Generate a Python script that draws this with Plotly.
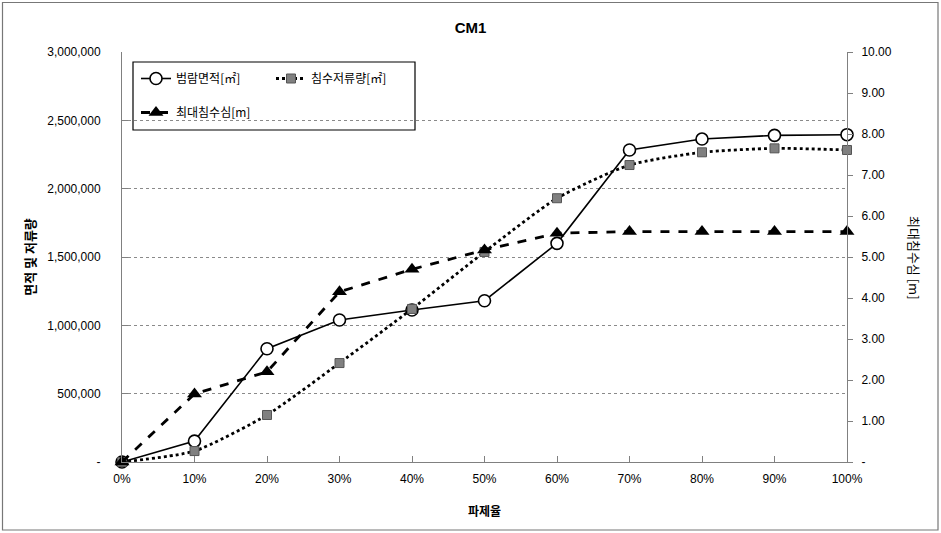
import plotly.graph_objects as go

x_pct = [0, 10, 20, 30, 40, 50, 60, 70, 80, 90, 100]
x_labels = ["0%", "10%", "20%", "30%", "40%", "50%", "60%", "70%", "80%", "90%", "100%"]

area = [0, 153000, 829000, 1039000, 1112000, 1180000, 1600000, 2283000, 2363000, 2390000, 2395000]
storage = [0, 80000, 344000, 724000, 1120000, 1537000, 1930000, 2173000, 2266000, 2295000, 2283000]
depth = [0, 1.66, 2.20, 4.15, 4.70, 5.17, 5.58, 5.62, 5.62, 5.62, 5.62]

left_ticks = [0, 500000, 1000000, 1500000, 2000000, 2500000, 3000000]
left_text = ["-", "500,000", "1,000,000", "1,500,000", "2,000,000", "2,500,000", "3,000,000"]
right_ticks = [0, 1, 2, 3, 4, 5, 6, 7, 8, 9, 10]
right_text = ["-", "1.00", "2.00", "3.00", "4.00", "5.00", "6.00", "7.00", "8.00", "9.00", "10.00"]

FONT = "Liberation Sans, Noto Sans CJK KR, sans-serif"
KFONT = "Noto Sans CJK KR, Liberation Sans, sans-serif"

fig = go.Figure()

fig.add_trace(go.Scatter(
    x=x_pct, y=area, name="범람면적[㎡]", mode="lines+markers",
    line=dict(color="black", width=1.6),
    marker=dict(symbol="circle", size=12, color="white", line=dict(color="black", width=1.6)),
    cliponaxis=False, legend="legend"))

fig.add_trace(go.Scatter(
    x=x_pct, y=storage, name="침수저류량[㎡]", mode="lines+markers",
    line=dict(color="black", width=2.8, dash="dot", shape="spline", smoothing=0.6),
    marker=dict(symbol="square", size=9, color="#808080", line=dict(color="#555555", width=1)),
    cliponaxis=False, legend="legend"))

fig.add_trace(go.Scatter(
    x=x_pct, y=depth, name="최대침수심[m]", mode="lines+markers", yaxis="y2",
    line=dict(color="black", width=2.8, dash="dash"),
    marker=dict(symbol="triangle-up", size=13, color="black"),
    cliponaxis=False, legend="legend2"))

L, R, T, B = 122, 94, 52, 71
W, H = 941, 533
pw, ph = W - L - R, H - T - B

def px_x(p):
    return (p - L) / pw

def px_y(p):
    return (H - B - p) / ph

fig.update_layout(
    width=W, height=H,
    margin=dict(l=L, r=R, t=T, b=B, pad=0),
    paper_bgcolor="white", plot_bgcolor="white",
    font=dict(family=FONT, size=12, color="black"),
    title=dict(text="<b>CM1</b>", x=0.5, xanchor="center", y=1 - 28 / H, yanchor="middle",
               font=dict(family=FONT, size=15, color="black")),
    xaxis=dict(range=[0, 100], tickvals=x_pct, ticktext=x_labels,
               showgrid=False, zeroline=False, showline=True, linecolor="#808080", linewidth=1,
               ticks="inside", ticklen=6, tickcolor="#808080",
               tickfont=dict(family=FONT, size=12, color="black"), ticklabelstandoff=6,
               title=dict(text="<b>파제율</b>", font=dict(family=KFONT, size=12), standoff=22)),
    yaxis=dict(range=[0, 3000000], tickvals=left_ticks, ticktext=left_text,
               showgrid=True, gridcolor="#8a8a8a", griddash="dot", gridwidth=1,
               zeroline=False, showline=True, linecolor="#808080", linewidth=1,
               ticks="inside", ticklen=6, tickcolor="#808080",
               tickfont=dict(family=FONT, size=12, color="black"), ticklabelstandoff=18,
               title=dict(text="<b>면적 및 저류량</b>", font=dict(family=KFONT, size=13), standoff=8)),
    yaxis2=dict(range=[0, 10], tickvals=right_ticks, ticktext=right_text, overlaying="y", side="right",
                showgrid=False, zeroline=False, showline=True, linecolor="#808080", linewidth=1,
                ticks="outside", ticklen=5, tickcolor="#808080",
                tickfont=dict(family=FONT, size=12, color="black"), ticklabelstandoff=6),
    legend=dict(x=px_x(136), y=px_y(64), xanchor="left", yanchor="top", orientation="h",
                bgcolor="rgba(0,0,0,0)", borderwidth=0, entrywidth=90, entrywidthmode="pixels",
                font=dict(family=KFONT, size=12, color="black"), itemwidth=30, tracegroupgap=0),
    legend2=dict(x=px_x(136), y=px_y(98), xanchor="left", yanchor="top", orientation="h",
                 bgcolor="rgba(0,0,0,0)", borderwidth=0,
                 font=dict(family=KFONT, size=12, color="black"), itemwidth=30),
    showlegend=True,
)

# legend frame and outer chart border
fig.add_shape(type="rect", xref="paper", yref="paper",
              x0=px_x(133), x1=px_x(415), y0=px_y(130), y1=px_y(62),
              line=dict(color="black", width=1.2), fillcolor="rgba(0,0,0,0)", layer="above")
fig.add_shape(type="rect", xref="paper", yref="paper",
              x0=px_x(2.5), x1=px_x(938), y0=px_y(530), y1=px_y(2.5),
              line=dict(color="#777777", width=1.2), fillcolor="rgba(0,0,0,0)", layer="below")

fig.add_annotation(text="최대침수심 [m]", xref="paper", yref="paper",
                   x=px_x(915), y=px_y(258), xanchor="center", yanchor="middle",
                   textangle=90, showarrow=False,
                   font=dict(family=KFONT, size=13, color="black"))

fig.write_html("out.html", config={"displayModeBar": False},
               post_script="document.body.style.margin='0';document.body.style.overflow='hidden';")
